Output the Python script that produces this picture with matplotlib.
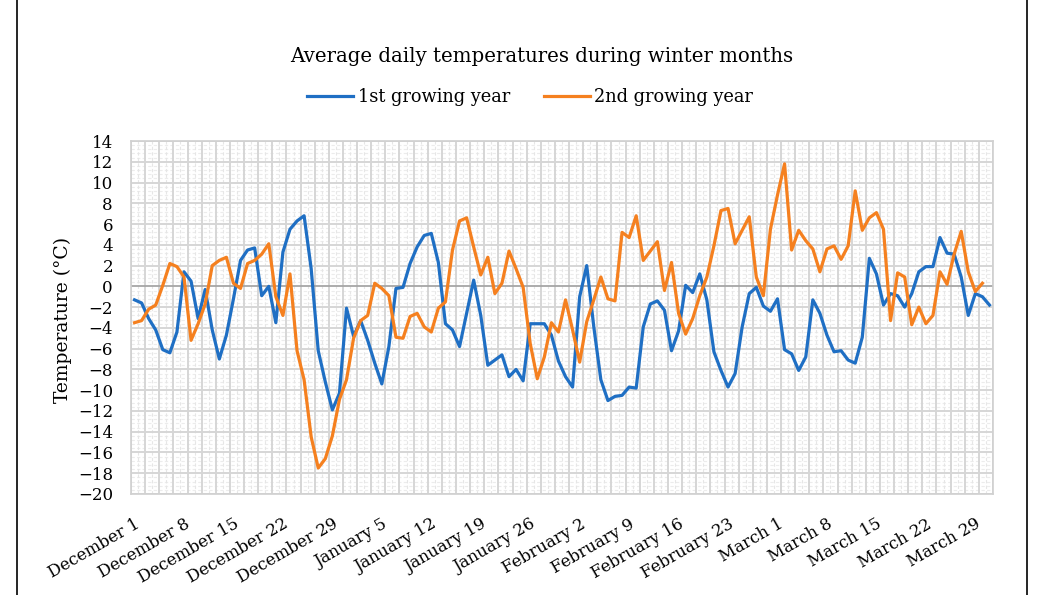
import matplotlib
matplotlib.use("Agg")
import matplotlib.pyplot as plt
from matplotlib.lines import Line2D
import numpy as np

plt.rcParams['font.family'] = ['DejaVu Serif']

title = "Average daily temperatures during winter months"
series_names = ["1st growing year", "2nd growing year"]

tick_labels = ["December 1", "December 8", "December 15", "December 22", "December 29",
               "January 5", "January 12", "January 19", "January 26", "February 2",
               "February 9", "February 16", "February 23", "March 1", "March 8",
               "March 15", "March 22", "March 29"]

year1 = [-1.3, -1.6, -3.1, -4.2, -6.1, -6.4, -4.4, 1.4, 0.5, -3.1,
         -0.3, -4.2, -7.0, -4.7, -1.2, 2.5, 3.5, 3.7, -0.9, 0.0,
         -3.5, 3.3, 5.5, 6.3, 6.8, 1.7, -6.2, -9.2, -11.9, -10.3,
         -2.1, -4.8, -3.3, -5.2, -7.4, -9.4, -5.8, -0.2, -0.1, 2.2,
         3.8, 4.9, 5.1, 2.3, -3.6, -4.2, -5.8, -2.6, 0.6, -2.8,
         -7.6, -7.1, -6.6, -8.7, -8.0, -9.1, -3.6, -3.6, -3.6, -4.7,
         -7.2, -8.7, -9.7, -1.0, 2.0, -3.9, -9.0, -11.0, -10.6, -10.5,
         -9.7, -9.8, -3.9, -1.7, -1.4, -2.3, -6.2, -4.3, 0.1, -0.6,
         1.2, -1.3, -6.3, -8.1, -9.7, -8.4, -3.9, -0.7, -0.1, -1.9,
         -2.4, -1.2, -6.1, -6.5, -8.1, -6.8, -1.3, -2.6, -4.7, -6.3,
         -6.2, -7.1, -7.4, -4.9, 2.7, 1.2, -1.8, -0.7, -0.9, -2.0,
         -0.7, 1.4, 1.9, 1.9, 4.7, 3.2, 3.1, 0.9, -2.8, -0.7,
         -1.0, -1.8]

year2 = [-3.5, -3.3, -2.2, -1.8, 0.1, 2.2, 1.9, 0.9, -5.2, -3.6,
         -1.7, 2.0, 2.5, 2.8, 0.3, -0.2, 2.2, 2.5, 3.1, 4.1,
         -1.0, -2.8, 1.2, -6.2, -9.0, -14.5, -17.5, -16.6, -14.4, -10.9,
         -9.0, -5.0, -3.3, -2.8, 0.3, -0.2, -0.9, -4.9, -5.0, -2.9,
         -2.6, -3.9, -4.4, -2.1, -1.5, 3.5, 6.3, 6.6, 3.8, 1.1,
         2.8, -0.7, 0.3, 3.4, 1.7, -0.1, -5.5, -8.9, -6.8, -3.5,
         -4.4, -1.3, -4.2, -7.3, -3.4, -1.3, 0.9, -1.2, -1.4, 5.2,
         4.7, 6.8, 2.5, 3.4, 4.3, -0.4, 2.3, -2.6, -4.6, -3.1,
         -0.9, 0.9, 3.9, 7.3, 7.5, 4.1, 5.4, 6.7, 0.9, -0.9,
         5.5, 8.8, 11.8, 3.5, 5.4, 4.4, 3.6, 1.4, 3.6, 3.9,
         2.6, 3.9, 9.2, 5.4, 6.6, 7.1, 5.5, -3.3, 1.3, 0.9,
         -3.7, -2.0, -3.6, -2.8, 1.4, 0.2, 3.1, 5.3, 1.4, -0.5,
         0.3]

W, H = 1041, 595
fig = plt.figure(figsize=(W / 100, H / 100), dpi=100)
ax = fig.add_axes([131 / W, 1 - 494 / H, (993 - 131) / W, (494 - 141) / H])

n = len(year1)
x1 = np.arange(len(year1))
x2 = np.arange(len(year2))

# grid
for k in range(0, n + 1):
    xb = k - 0.5
    if k % 2 == 0:
        ax.axvline(xb, color='#d6d6d6', lw=1.4, zorder=1)
    else:
        ax.axvline(xb, color='#e6e6e6', lw=0.8, ls=(0, (3, 2)), zorder=0.9)
for v in np.arange(-20, 14.01, 0.4):
    if abs(v - round(v)) < 1e-6 and int(round(v)) % 2 == 0:
        continue
    ax.axhline(v, color='#ececec', lw=0.8, ls=(0, (3, 2)), zorder=0.8)
for v in range(-20, 15, 2):
    ax.axhline(v, color='#a6a6a6' if v == 0 else '#d6d6d6',
               lw=1.3 if v == 0 else 1.4, zorder=1.1 if v == 0 else 1)

ax.plot(x1, year1, color='#1f6fc4', lw=2.3, label=series_names[0], zorder=3,
        solid_joinstyle='round')
ax.plot(x2, year2, color='#f5801f', lw=2.3, label=series_names[1], zorder=3,
        solid_joinstyle='round')

ax.set_xlim(-0.5, n - 0.5)
ax.set_ylim(-20, 14)
ax.set_yticks(range(-20, 15, 2))
ax.set_xticks(np.arange(0, n, 7)[:len(tick_labels)])
ax.set_xticklabels(tick_labels, rotation=30, ha='right', va='top',
                   rotation_mode='anchor', fontsize=12)
ax.tick_params(axis='x', length=0, pad=15.5)
ax.tick_params(axis='y', length=0, pad=13, labelsize=12)
for s in ax.spines.values():
    s.set_color('#d0d0d0')
    s.set_linewidth(1.2)

fig.text(63 / W, 1 - 320 / H, "Temperature (°C)", rotation=90, ha='center',
         va='center', fontsize=13.5)
fig.text(542 / W, 1 - 56 / H, title, ha='center', va='center', fontsize=14.2)

handles = [Line2D([], [], color='#1f6fc4', lw=2.3),
           Line2D([], [], color='#f5801f', lw=2.3)]
fig.legend(handles, series_names, loc='center', bbox_to_anchor=(530 / W, 1 - 97 / H),
           ncol=2, frameon=False, fontsize=12.8, handlelength=2.6, handletextpad=0.25,
           columnspacing=1.9)

for xf in (17 / W, 1027 / W):
    fig.add_artist(Line2D([xf, xf], [0, 1], transform=fig.transFigure,
                          color='black', lw=1.2))

fig.savefig("out.png", dpi=100)
